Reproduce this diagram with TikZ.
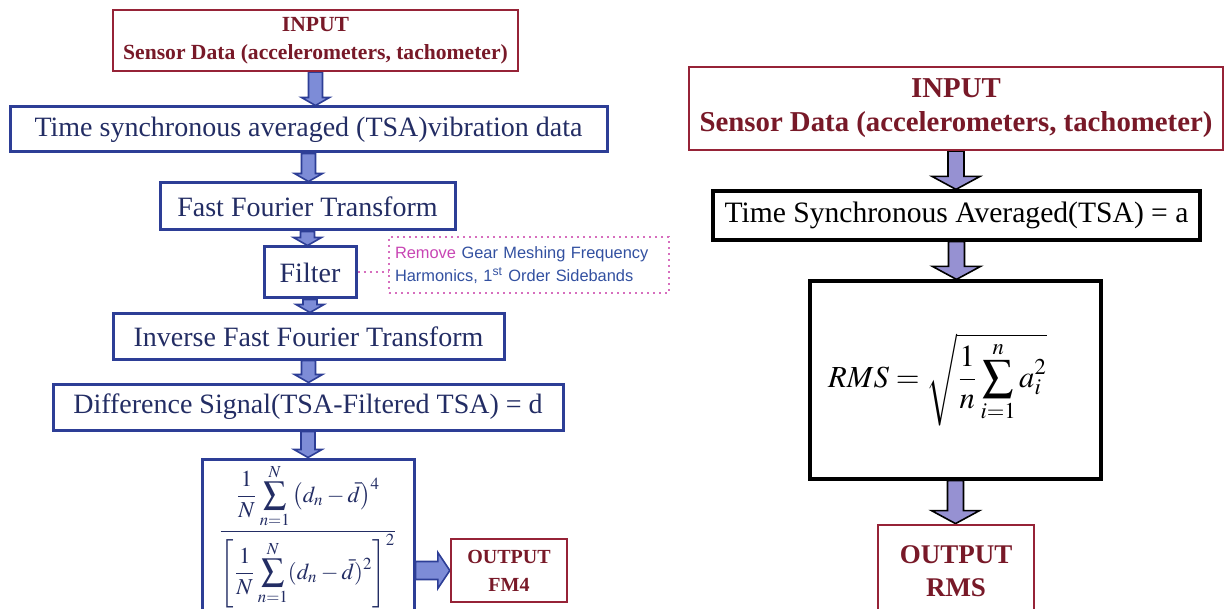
\documentclass[tikz,border=0pt]{standalone}
\usepackage{mathptmx}
\usepackage{fontspec}
\setmainfont{Liberation Serif}
\newfontfamily\notefont{Liberation Sans}
\usetikzlibrary{calc,backgrounds}

\definecolor{boxblue}{RGB}{45,62,150}
\definecolor{txtblue}{RGB}{35,45,100}
\definecolor{boxred}{RGB}{150,35,55}
\definecolor{txtred}{RGB}{120,25,40}
\definecolor{flowblue}{RGB}{125,140,215}
\definecolor{flowlilac}{RGB}{150,145,210}
\definecolor{notepink}{RGB}{215,110,190}
\definecolor{notemag}{RGB}{200,70,180}
\definecolor{noteblue}{RGB}{50,80,160}

\tikzset{
	bluebox/.style={draw=boxblue, line width=1.5pt, text=txtblue, inner sep=0pt, font=\fontsize{14}{16}\selectfont},
	redbox/.style={draw=boxred, line width=1.2pt, text=txtred, inner sep=0pt, align=center},
	blackbox/.style={draw=black, line width=1.6pt, inner sep=0pt, font=\fontsize{14.8}{17}\selectfont},
	notebox/.style={draw=notepink, dotted, line width=1pt, inner sep=0pt, align=left, text=noteblue, font=\notefont\fontsize{8.2}{11.5}\selectfont},
	leftflow/.style={draw=boxblue, fill=flowblue, line width=0.8pt},
	rightflow/.style={draw=black, fill=flowlilac, line width=0.8pt},
}

% block arrow: style, from, to, half shaft, half head, head length
\newcommand{\downflow}[6]{%
	\filldraw[#1] let \p1=(#2.south), \p2=(#3.north) in
		(\x1-#4,\y1) -- (\x1-#4,\y2+#6) -- (\x1-#5,\y2+#6) -- (\x1,\y2)
		-- (\x1+#5,\y2+#6) -- (\x1+#4,\y2+#6) -- (\x1+#4,\y1) -- cycle;}

\begin{document}
\begin{tikzpicture}[x=0.5pt,y=-0.5pt]
	\useasboundingbox (0,0) rectangle (1226,609);
	% left chain
	\node[redbox, minimum width=202.5pt, minimum height=30.5pt, font=\bfseries\fontsize{10.8}{14}\selectfont] (inL) at (315.5,40.5) {INPUT\\Sensor Data (accelerometers, tachometer)};
	\node[bluebox, minimum width=298.5pt, minimum height=22.5pt] (tsaL) at (308.5,129.5) {Time synchronous averaged (TSA)vibration data};
	\node[bluebox, minimum width=147.5pt, minimum height=23.5pt] (fft) at (307.5,206.5) {Fast Fourier Transform};
	\node[bluebox, minimum width=46pt, minimum height=25.5pt] (filt) at (310,272.5) {Filter};
	\node[notebox, minimum width=140pt, minimum height=28pt, text width=134pt] (note) at (529,265) {{\color{notemag}Remove} Gear Meshing Frequency\\Harmonics, 1\textsuperscript{st} Order Sidebands};
	\node[bluebox, minimum width=195.5pt, minimum height=22.5pt] (ifft) at (308.5,336.5) {Inverse Fast Fourier Transform};
	\node[bluebox, minimum width=255pt, minimum height=23pt] (diff) at (308,407) {Difference Signal(TSA-Filtered TSA) = d};
	\node[bluebox, minimum width=106pt, minimum height=77pt, font=\fontsize{11.4}{13}\selectfont] (fm) at (308,536) {$\displaystyle\frac{\displaystyle\frac{1}{N}\sum_{n=1}^{N}\left(d_n-\bar{d}\right)^4}{\displaystyle\left[\frac{1}{N}\sum_{n=1}^{N}(d_n-\bar{d})^2\right]^2}$};
	\node[redbox, minimum width=58pt, minimum height=31.5pt, font=\bfseries\fontsize{10}{14}\selectfont] (outL) at (509,570.5) {OUTPUT\\FM4};

	% right chain
	\node[redbox, minimum width=267pt, minimum height=41.5pt, font=\bfseries\fontsize{14.4}{17}\selectfont] (inR) at (956,108.5) {INPUT\\Sensor Data (accelerometers, tachometer)};
	\node[blackbox, minimum width=243.5pt, minimum height=24.5pt] (tsaR) at (956.5,215.5) {Time Synchronous Averaged(TSA) = a};
	\node[blackbox, minimum width=145.5pt, minimum height=99pt] (rms) at (955.5,380) {};
	\node[font=\fontsize{15.3}{18}\selectfont] (rmsf) at ([xshift=-9pt]rms.center) {$RMS = \sqrt{\displaystyle\frac{1}{n}\sum_{i=1}^{n} a_i^2}$};
	\node[redbox, minimum width=78pt, minimum height=46pt, line width=1.4pt, font=\bfseries\fontsize{13.5}{16.5}\selectfont] (outR) at (956,571) {OUTPUT\\RMS};

	\begin{scope}[on background layer]
		\downflow{leftflow}{inL}{tsaL}{3.5pt}{7pt}{4pt}
		\downflow{leftflow}{tsaL}{fft}{3.5pt}{7pt}{4pt}
		\downflow{leftflow}{fft}{filt}{3.5pt}{7pt}{4pt}
		\downflow{leftflow}{filt}{ifft}{3.5pt}{7pt}{4pt}
		\downflow{leftflow}{ifft}{diff}{3.5pt}{7pt}{4pt}
		\downflow{leftflow}{diff}{fm}{3.5pt}{7pt}{4pt}
		\filldraw[leftflow] let \p1=(fm.east |- outL.west), \p2=(outL.west) in
			(\x1,\y1+4.5pt) -- (\x2-6pt,\y1+4.5pt) -- (\x2-6pt,\y1+9pt) -- (\x2,\y1)
			-- (\x2-6pt,\y1-9pt) -- (\x2-6pt,\y1-4.5pt) -- (\x1,\y1-4.5pt) -- cycle;
		\downflow{rightflow}{inR}{tsaR}{4pt}{12pt}{6.5pt}
		\downflow{rightflow}{tsaR}{rms}{4pt}{12pt}{6.5pt}
		\downflow{rightflow}{rms}{outR}{4pt}{12pt}{6.5pt}
	\end{scope}
	\draw[notepink, dotted, line width=1pt] (filt.east) -- (filt.east -| note.west);
\end{tikzpicture}
\end{document}
